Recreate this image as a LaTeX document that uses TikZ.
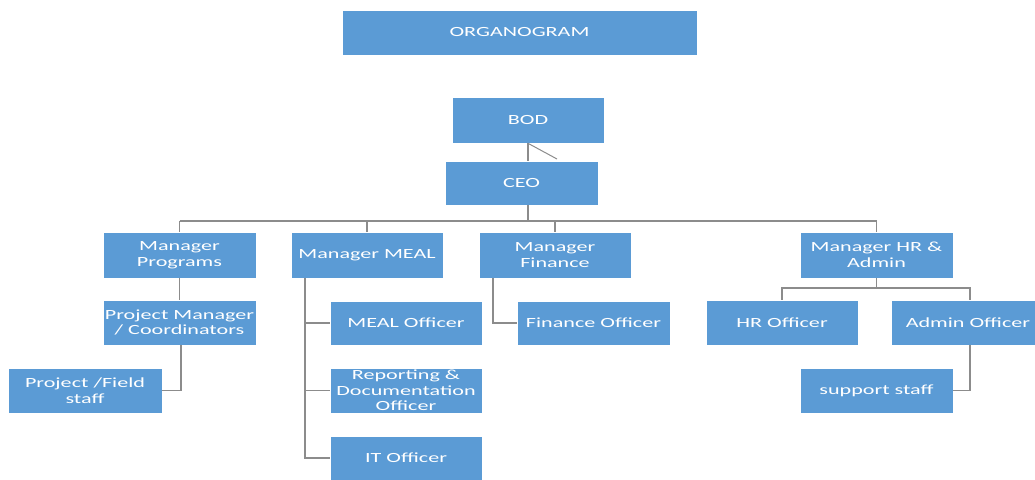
\documentclass[tikz,border=0pt]{standalone}
\usepackage{fontspec}
\newfontfamily\boxfont[FakeStretch=1.58]{Carlito}
\definecolor{boxblue}{HTML}{5B9BD5}
\definecolor{linegray}{RGB}{140,140,140}
\begin{document}
\begin{tikzpicture}[x=1pt,y=-1pt,
  box/.style={fill=boxblue, draw=white, line width=0.6pt, text=white, align=center,
    minimum width=153pt, minimum height=45pt, inner sep=1pt,
    font=\boxfont\fontsize{14}{15.5}\selectfont},
  conn/.style={draw=linegray, line width=1.6pt}]
\useasboundingbox (0,0) rectangle (1035,479);
\fill[white] (0,0) rectangle (1035,479);
% nodes
\node[box, minimum width=355pt] (org) at (519.5,32.5) {ORGANOGRAM};
\node[box, minimum width=152pt, minimum height=46pt] (bod) at (528,120) {BOD};
\node[box, minimum height=44pt] (ceo) at (521.5,183) {CEO};
\node[box, minimum height=46pt] (mp) at (179.5,255) {Manager\\Programs};
\node[box, minimum height=46pt, minimum width=152pt] (mm) at (367,255) {Manager MEAL};
\node[box, minimum height=46pt, minimum width=152pt] (mf) at (555,255) {Manager\\Finance};
\node[box, minimum height=46pt] (mh) at (876.5,255) {Manager HR \&\\Admin};
\node[box] (pm) at (179.5,322.5) {Project Manager\\/ Coordinators};
\node[box, minimum width=154pt] (pf) at (85,390.5) {Project /Field\\staff};
\node[box, minimum width=152pt, minimum height=44pt] (meo) at (406,323) {MEAL Officer};
\node[box, minimum width=152pt] (rep) at (406,390.5) {Reporting \&\\Documentation\\Officer};
\node[box, minimum width=152pt, minimum height=44pt] (it) at (406,458) {IT Officer};
\node[box, minimum height=44pt] (fo) at (593.5,323) {Finance Officer};
\node[box, minimum width=152pt] (hr) at (782,322.5) {HR Officer};
\node[box] (ao) at (968,322.5) {Admin Officer};
\node[box] (ss) at (876.5,390.5) {support staff};
% connectors
\coordinate (diag) at (557,159);
\draw[conn] (bod.south) -- (bod.south |- ceo.north);
\draw[draw=linegray, line width=1pt] (bod.south) -- (diag);
\coordinate (bus) at (528,221);
\draw[conn] (bod.south |- ceo.south) -- (bus);
\draw[conn] (mp.north |- bus) -- (mh.north |- bus);
\foreach \n in {mp,mm,mf,mh} \draw[conn] (\n.north) -- (\n.north |- bus);
\draw[conn] (mp.south) -- (pm.north);
\draw[conn] ([xshift=1.5pt]pm.south) |- (pf.east);
\coordinate (mtop) at (305,278);
\draw[conn] (mtop) |- (meo.west);
\draw[conn] (mtop) |- (rep.west);
\draw[conn] (mtop) |- (it.west);
\coordinate (ftop) at (493,278);
\draw[conn] (ftop) |- (fo.west);
\coordinate (hbus) at (876.5,288);
\draw[conn] (mh.south) -- (hbus);
\draw[conn] (hr.north) -- (hr.north |- hbus) -- ([xshift=2pt]ao.north |- hbus) -- ([xshift=2pt]ao.north);
\draw[conn] ([xshift=2pt]ao.south) |- (ss.east);
\end{tikzpicture}
\end{document}
